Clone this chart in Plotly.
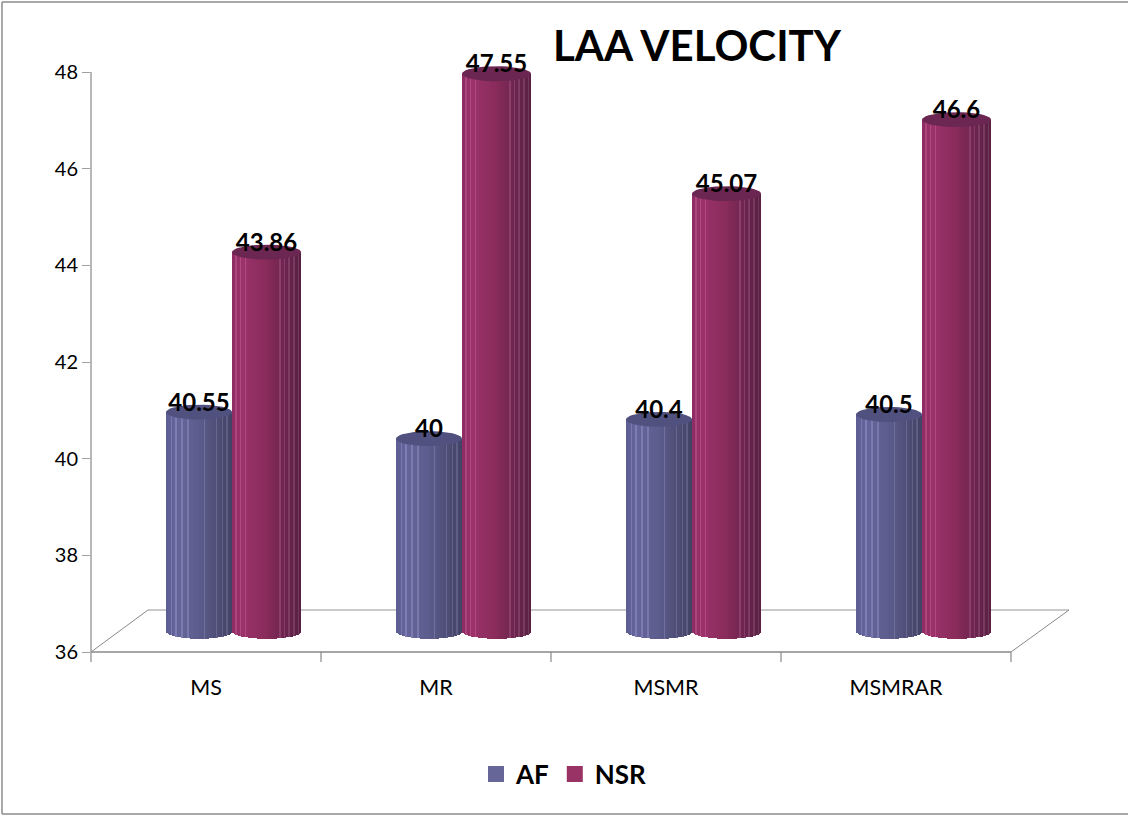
import math
import plotly.graph_objects as go

categories = ["MS", "MR", "MSMR", "MSMRAR"]
af_values = [40.55, 40, 40.4, 40.5]
nsr_values = [43.86, 47.55, 45.07, 46.6]
y_ticks = [36, 38, 40, 42, 44, 46, 48]

W, H = 1128, 816
L, T, R, B = 91, 12, 59, 164
PW, PH = W - L - R, H - T - B
CAT_PX = 230.0
UNIT_PX = 580 / 12.0
FONT = "Lato"
Y_TOP = 48 + 60 / UNIT_PX


def xu(px):
    return px / CAT_PX


def yu(px):
    return px / UNIT_PX


DEPTH = yu(20)          # the 3D chart's back plane sits above the front axis
ELL_H = yu(7.5)
FLOOR = 36 + DEPTH + yu(0.7)
N = 44


def mix(stops, t):
    for (t0, c0), (t1, c1) in zip(stops, stops[1:]):
        if t <= t1:
            f = (t - t0) / (t1 - t0)
            return tuple(a + (b - a) * f for a, b in zip(c0, c1))
    return stops[-1][1]


def rgb(c, lift=0):
    return "rgb(%d,%d,%d)" % tuple(min(255, round(v + lift)) for v in c)


AF_STOPS = [(0, (92, 93, 146)), (0.15, (101, 101, 156)), (0.5, (92, 92, 140)), (0.8, (76, 76, 116)), (1, (66, 66, 102))]
NSR_STOPS = [(0, (142, 44, 98)), (0.15, (155, 50, 106)), (0.5, (136, 43, 90)), (0.8, (104, 36, 76)), (1, (88, 32, 66))]

series = [
    dict(name="AF", values=af_values, start=-40, width=66, stops=AF_STOPS, top="#50517f", swatch="#666699",
         streaks={3, 6, 10, 14, 25, 33, 37, 40}),
    dict(name="NSR", values=nsr_values, start=26, width=69, stops=NSR_STOPS, top="#6b2751", swatch="#993366",
         streaks={2, 5, 8, 30, 33, 36, 39, 42}),
]

fig = go.Figure()

for s in series:
    w = s["width"] / N
    for i in range(N):
        tc = (i + 0.5) / N
        u = 2 * tc - 1
        base = FLOOR - ELL_H * math.sqrt(max(0, 1 - u * u))
        col = rgb(mix(s["stops"], tc), 24 if i in s["streaks"] else 0)
        fig.add_trace(go.Bar(
            x=list(range(len(categories))),
            y=[v + DEPTH - base for v in s["values"]],
            base=base,
            width=xu(w * (1.6 if i < N - 1 else 1)),
            offset=xu(s["start"] + i * w),
            marker=dict(color=col, line=dict(width=0)),
            showlegend=False,
            hoverinfo="skip",
        ))

for s in series:
    ex, ey = [], []
    for k, v in enumerate(s["values"]):
        cx = k + xu(s["start"] + s["width"] / 2)
        for a in range(0, 41):
            th = 2 * math.pi * a / 40
            ex.append(cx + xu(s["width"] / 2) * math.cos(th))
            ey.append(v + DEPTH + ELL_H * math.sin(th))
        ex.append(None)
        ey.append(None)
    fig.add_trace(go.Scatter(x=ex, y=ey, mode="lines", fill="toself", fillcolor=s["top"],
                             line=dict(width=0, color=s["top"]), showlegend=False, hoverinfo="skip"))

for s in series:
    fig.add_trace(go.Scatter(
        x=[k + xu(s["start"] + s["width"] / 2) for k in range(len(categories))],
        y=[v + DEPTH + yu(7.5) for v in s["values"]],
        mode="text",
        text=[str(v) for v in s["values"]],
        textposition="middle center",
        textfont=dict(family=FONT, size=24, color="black", weight="bold"),
        cliponaxis=False,
        showlegend=False,
        hoverinfo="skip",
    ))

for s in series:
    fig.add_trace(go.Scatter(x=[None], y=[None], mode="markers", name=s["name"],
                             marker=dict(symbol="square", size=18, color=s["swatch"])))

GRID_D = "#888888"
GRID_L = "#b8b8b8"
shapes = []
x_left, x_right = -0.5, 3.5
back_r = x_right + xu(58)

fx = lambda px: (px - L) / PW
fy = lambda py: 1 - (py - T) / PH


def seg(px0, py0, px1, py1, color, width):
    shapes.append(dict(type="line", xref="paper", yref="paper", x0=fx(px0), y0=fy(py0), x1=fx(px1), y1=fy(py1),
                       line=dict(color=color, width=width), layer="below"))


# floor of the 3D box, axis lines, category separators
seg(148, 610, 1069, 610, GRID_L, 1.5)
seg(91, 652, 148, 610, GRID_D, 1)
seg(1011, 652, 1069, 610, GRID_D, 1)
seg(91, 72, 91, 662, GRID_L, 2)
for k in range(len(categories) + 1):
    px = 91 + k * CAT_PX
    seg(px, 652, px, 662, GRID_L, 2)
seg(91, 652, 1011, 652, GRID_D, 1.5)

# outer frame of the picture
for x0, y0, x1, y1 in [(2, 2, W, 2), (2, 2, 2, 814), (2, 814, W, 814)]:
    seg(x0, y0, x1, y1, "#8c8c8c", 1.5)

fig.update_layout(
    width=W, height=H, autosize=False,
    margin=dict(l=L, t=T, r=R, b=B, pad=0),
    paper_bgcolor="white", plot_bgcolor="rgba(0,0,0,0)",
    barmode="overlay", bargap=0,
    font=dict(family=FONT, color="black", size=19),
    title=dict(text="<b>LAA VELOCITY</b>", font=dict(family=FONT, size=42, color="black"),
               x=697 / W, xanchor="center", xref="container",
               y=1 - 46 / H, yanchor="middle", yref="container"),
    xaxis=dict(range=[x_left, back_r], tickvals=list(range(len(categories))), ticktext=categories,
               showgrid=False, zeroline=False, showline=False, ticks="", ticklabelstandoff=20,
               tickfont=dict(family=FONT, size=21.5, color="black")),
    yaxis=dict(range=[36, Y_TOP], tickvals=y_ticks, showgrid=False, zeroline=False, showline=False,
               ticks="outside", ticklen=8, tickcolor="#a0a0a0", tickwidth=1,
               tickfont=dict(family=FONT, size=20, color="black")),
    legend=dict(orientation="h", x=fx(476), xanchor="left", y=fy(774), yanchor="middle",
                font=dict(family=FONT, size=26, color="black", weight="bold"),
                bgcolor="rgba(0,0,0,0)", itemclick=False, itemdoubleclick=False),
    shapes=shapes,
    showlegend=True,
)

fig.write_html("out.html", config={"displayModeBar": False}, post_script="document.body.style.margin='0';")
